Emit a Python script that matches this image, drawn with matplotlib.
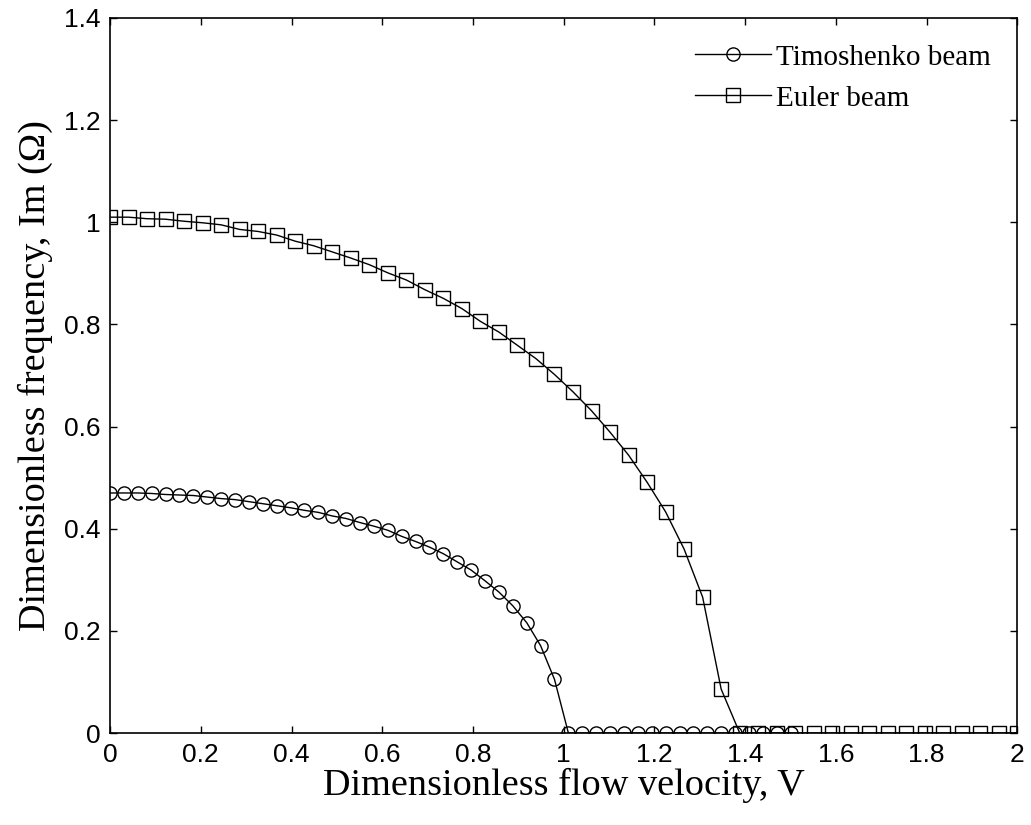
import numpy as np
import matplotlib
matplotlib.use('Agg')
import matplotlib.pyplot as plt

# Timoshenko beam: 50 points on 0..1.5
v_timo = [0.0, 0.0306, 0.0612, 0.0918, 0.1224, 0.1531, 0.1837, 0.2143, 0.2449, 0.2755,
          0.3061, 0.3367, 0.3673, 0.3980, 0.4286, 0.4592, 0.4898, 0.5204, 0.5510, 0.5816,
          0.6122, 0.6429, 0.6735, 0.7041, 0.7347, 0.7653, 0.7959, 0.8265, 0.8571, 0.8878,
          0.9184, 0.9490, 0.9796, 1.0102, 1.0408, 1.0714, 1.1020, 1.1327, 1.1633, 1.1939,
          1.2245, 1.2551, 1.2857, 1.3163, 1.3469, 1.3776, 1.4082, 1.4388, 1.4694, 1.5]
im_timo = [0.470, 0.470, 0.470, 0.469, 0.467, 0.466, 0.465, 0.462, 0.459, 0.457,
           0.453, 0.449, 0.445, 0.441, 0.436, 0.432, 0.425, 0.420, 0.412, 0.405,
           0.397, 0.385, 0.375, 0.364, 0.351, 0.335, 0.319, 0.298, 0.276, 0.249,
           0.216, 0.171, 0.105, 0, 0, 0, 0, 0, 0, 0,
           0, 0, 0, 0, 0, 0, 0, 0, 0, 0]

# Euler beam: 50 points on 0..2
v_euler = [0.0, 0.0408, 0.0816, 0.1224, 0.1633, 0.2041, 0.2449, 0.2857, 0.3265, 0.3673,
           0.4082, 0.4490, 0.4898, 0.5306, 0.5714, 0.6122, 0.6531, 0.6939, 0.7347, 0.7755,
           0.8163, 0.8571, 0.8980, 0.9388, 0.9796, 1.0204, 1.0612, 1.1020, 1.1429, 1.1837,
           1.2245, 1.2653, 1.3061, 1.3469, 1.3878, 1.4286, 1.4694, 1.5102, 1.5510, 1.5918,
           1.6327, 1.6735, 1.7143, 1.7551, 1.7959, 1.8367, 1.8776, 1.9184, 1.9592, 2.0]
im_euler = [1.010, 1.010, 1.007, 1.006, 1.002, 0.999, 0.995, 0.986, 0.982, 0.975,
            0.963, 0.954, 0.942, 0.930, 0.917, 0.901, 0.887, 0.868, 0.851, 0.831,
            0.806, 0.785, 0.759, 0.733, 0.702, 0.668, 0.631, 0.589, 0.544, 0.491,
            0.433, 0.360, 0.266, 0.086, 0, 0, 0, 0, 0, 0,
            0, 0, 0, 0, 0, 0, 0, 0, 0, 0]

xticklabels = ['0', '0.2', '0.4', '0.6', '0.8', '1', '1.2', '1.4', '1.6', '1.8', '2']
yticklabels = ['0', '0.2', '0.4', '0.6', '0.8', '1', '1.2', '1.4']

fig = plt.figure(figsize=(10.31, 8.25), dpi=100)
ax = fig.add_axes([0.1067, 0.1115, 0.8802, 0.8667])

ax.plot(v_timo, im_timo, '-o', color='black', lw=1.0, ms=9.5, mfc='none', mew=1.0,
        label='Timoshenko beam')
ax.plot(v_euler, im_euler, '-s', color='black', lw=1.0, ms=9.5, mfc='none', mew=1.0,
        label='Euler beam')

ax.set_xlim(0, 2)
ax.set_ylim(0, 1.4)
ax.set_xticks(np.arange(0, 2.01, 0.2))
ax.set_xticklabels(xticklabels)
ax.set_yticks(np.arange(0, 1.41, 0.2))
ax.set_yticklabels(yticklabels)
ax.tick_params(direction='in', top=True, right=True, length=5, width=1,
               labelsize=19, pad=7)
for lab in ax.get_xticklabels() + ax.get_yticklabels():
    lab.set_family('Liberation Sans')
for s in ax.spines.values():
    s.set_linewidth(1.2)

ax.set_xlabel('Dimensionless flow velocity, V', family='Liberation Serif', fontsize=27.5,
              labelpad=1)
ax.set_ylabel('Dimensionless frequency, Im (Ω)', family='Liberation Serif',
              fontsize=27.5, labelpad=8)

leg = ax.legend(loc='upper right', frameon=False,
                prop={'family': 'Liberation Serif', 'size': 21},
                handlelength=2.6, handletextpad=0.2, labelspacing=0.5,
                borderaxespad=0.5)

fig.savefig('out.png', dpi=100)
